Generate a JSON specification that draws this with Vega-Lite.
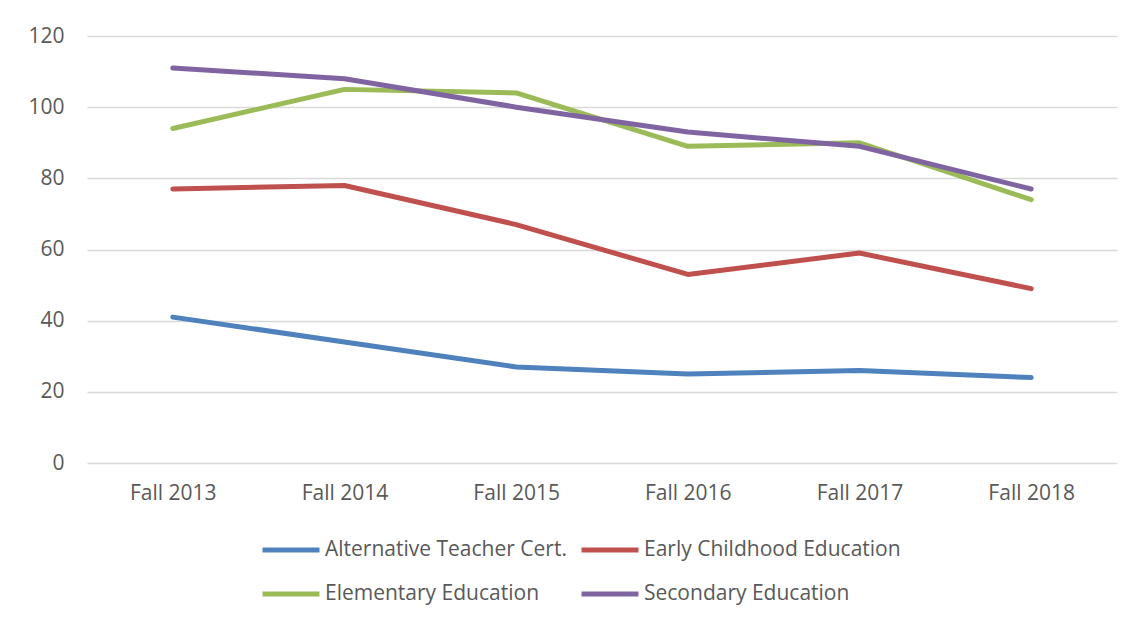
{
  "$schema": "https://vega.github.io/schema/vega-lite/v6.json",
  "width": 1030,
  "height": 427,
  "autosize": {"type": "none"},
  "padding": {"left": 87, "top": 36, "right": 11, "bottom": 162},
  "background": "white",
  "config": {
    "view": {"stroke": null},
    "font": "Open Sans",
    "axis": {"labelFont": "Open Sans", "labelColor": "#595959", "labelFontSize": 21, "domain": false, "ticks": false, "title": null},
    "legend": {"labelFont": "Open Sans", "labelColor": "#595959", "labelFontSize": 21, "labelLimit": 500}
  },
  "data": {
    "values": [
      {"term": "Fall 2013", "series": "Alternative Teacher Cert.", "value": 41},
      {"term": "Fall 2014", "series": "Alternative Teacher Cert.", "value": 34},
      {"term": "Fall 2015", "series": "Alternative Teacher Cert.", "value": 27},
      {"term": "Fall 2016", "series": "Alternative Teacher Cert.", "value": 25},
      {"term": "Fall 2017", "series": "Alternative Teacher Cert.", "value": 26},
      {"term": "Fall 2018", "series": "Alternative Teacher Cert.", "value": 24},
      {"term": "Fall 2013", "series": "Early Childhood Education", "value": 77},
      {"term": "Fall 2014", "series": "Early Childhood Education", "value": 78},
      {"term": "Fall 2015", "series": "Early Childhood Education", "value": 67},
      {"term": "Fall 2016", "series": "Early Childhood Education", "value": 53},
      {"term": "Fall 2017", "series": "Early Childhood Education", "value": 59},
      {"term": "Fall 2018", "series": "Early Childhood Education", "value": 49},
      {"term": "Fall 2013", "series": "Elementary Education", "value": 94},
      {"term": "Fall 2014", "series": "Elementary Education", "value": 105},
      {"term": "Fall 2015", "series": "Elementary Education", "value": 104},
      {"term": "Fall 2016", "series": "Elementary Education", "value": 89},
      {"term": "Fall 2017", "series": "Elementary Education", "value": 90},
      {"term": "Fall 2018", "series": "Elementary Education", "value": 74},
      {"term": "Fall 2013", "series": "Secondary Education", "value": 111},
      {"term": "Fall 2014", "series": "Secondary Education", "value": 108},
      {"term": "Fall 2015", "series": "Secondary Education", "value": 100},
      {"term": "Fall 2016", "series": "Secondary Education", "value": 93},
      {"term": "Fall 2017", "series": "Secondary Education", "value": 89},
      {"term": "Fall 2018", "series": "Secondary Education", "value": 77}
    ]
  },
  "mark": {"type": "line", "strokeWidth": 5, "strokeCap": "round", "strokeJoin": "round"},
  "encoding": {
    "x": {
      "field": "term", "type": "ordinal", "sort": null,
      "scale": {"type": "point", "padding": 0.5},
      "axis": {"labelAngle": 0, "grid": false, "labelPadding": 19}
    },
    "y": {
      "field": "value", "type": "quantitative",
      "scale": {"domain": [0, 120], "nice": false},
      "axis": {"values": [0, 20, 40, 60, 80, 100, 120], "gridColor": "#d9d9d9", "gridWidth": 1.5, "labelPadding": 23}
    },
    "color": {
      "field": "series", "type": "nominal",
      "scale": {
        "domain": ["Alternative Teacher Cert.", "Early Childhood Education", "Elementary Education", "Secondary Education"],
        "range": ["#4f81bd", "#c0504d", "#9bbb59", "#8064a2"]
      },
      "legend": {
        "title": null,
        "orient": "none",
        "legendX": 173,
        "legendY": 483,
        "direction": "horizontal",
        "columns": 2,
        "symbolType": "stroke",
        "symbolStrokeWidth": 5,
        "symbolSize": 3249,
        "rowPadding": 3,
        "columnPadding": 4,
        "labelOffset": 3
      }
    }
  }
}
